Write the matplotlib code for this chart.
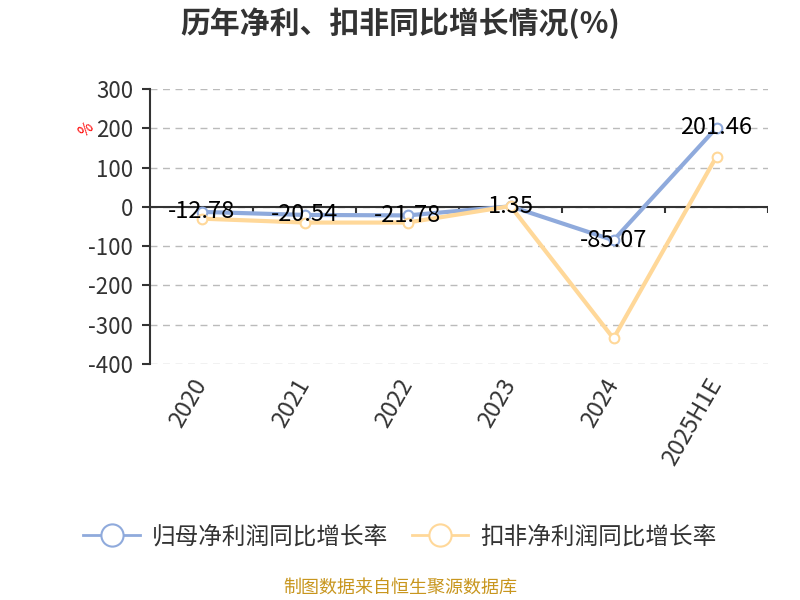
import numpy as np
import matplotlib.pyplot as plt
from matplotlib.lines import Line2D

plt.rcParams['font.family'] = ['Noto Sans CJK SC', 'DejaVu Sans']
plt.rcParams['axes.unicode_minus'] = False

# ---- DATA ---- #
years = ["2020", "2021", "2022", "2023", "2024", "2025H1E"]
net_profit_growth = [-12.78, -20.54, -21.78, 1.35, -85.07, 201.46]
deducted_growth = [-30, -40, -40, 2, -335, 128]
blue = "#8FAADC"
orange = "#FFD899"

fig = plt.figure(figsize=(8, 6), dpi=100)
ax = fig.add_axes([0.1875, 0.3933, 0.7725, 0.4584])

x = np.arange(len(years))
ax.plot(x, net_profit_growth, color=blue, lw=3, marker="o", ms=7,
        mfc="white", mec=blue, mew=1.5, zorder=3)
ax.plot(x, deducted_growth, color=orange, lw=3, marker="o", ms=7,
        mfc="white", mec=orange, mew=1.5, zorder=3)

for xi, v in zip(x, net_profit_growth):
    ax.text(xi, v, f"{v:.2f}", ha="center", va="center", fontsize=17,
            color="black", zorder=4)

ax.set_xlim(-0.5, len(years) - 0.5)
ax.set_ylim(-400, 300)
ax.set_yticks(np.arange(-400, 301, 100))
ax.tick_params(axis="y", labelsize=16, colors="#333333", length=6, width=1.5, pad=6)
ax.grid(axis="y", color="#BBBBBB", linestyle=(0, (5, 4)), lw=1)
ax.set_axisbelow(True)

ax.set_xticks(x)
ax.set_xticklabels(years, rotation=60, ha="right", va="center",
                   rotation_mode="anchor", fontsize=17, color="#333333")
ax.tick_params(axis="x", length=0, pad=12)

for s in ["top", "right", "bottom"]:
    ax.spines[s].set_visible(False)
ax.spines["left"].set_color("#333333")
ax.spines["left"].set_linewidth(1.5)

# zero line with category boundary ticks
ax.axhline(0, color="#333333", lw=1.5, zorder=2)
bounds = np.arange(len(years) + 1) - 0.5
ax.vlines(bounds[1:], -15, 0, color="#333333", lw=1.5, zorder=2)

fig.text(0.5, 0.962, "历年净利、扣非同比增长情况(%)", ha="center", va="center",
         fontsize=21.5, fontweight="bold", color="#333333")
fig.text(0.108, 0.783, "%", color="red", fontsize=11, rotation=45,
         ha="center", va="center")

handles = [
    Line2D([], [], color=blue, lw=2, marker="o", ms=16, mfc="white", mec=blue, mew=1.5),
    Line2D([], [], color=orange, lw=2, marker="o", ms=16, mfc="white", mec=orange, mew=1.5),
]
fig.legend(handles, ["归母净利润同比增长率", "扣非净利润同比增长率"], loc="center",
           bbox_to_anchor=(0.5, 0.105), ncol=2, frameon=False, fontsize=17,
           handlelength=2.4, handletextpad=0.5, columnspacing=1.0,
           labelcolor="#333333")

fig.text(0.5, 0.02, "制图数据来自恒生聚源数据库", ha="center", va="center",
         fontsize=13, color="#C8961E")

fig.savefig("out.png", dpi=100)
